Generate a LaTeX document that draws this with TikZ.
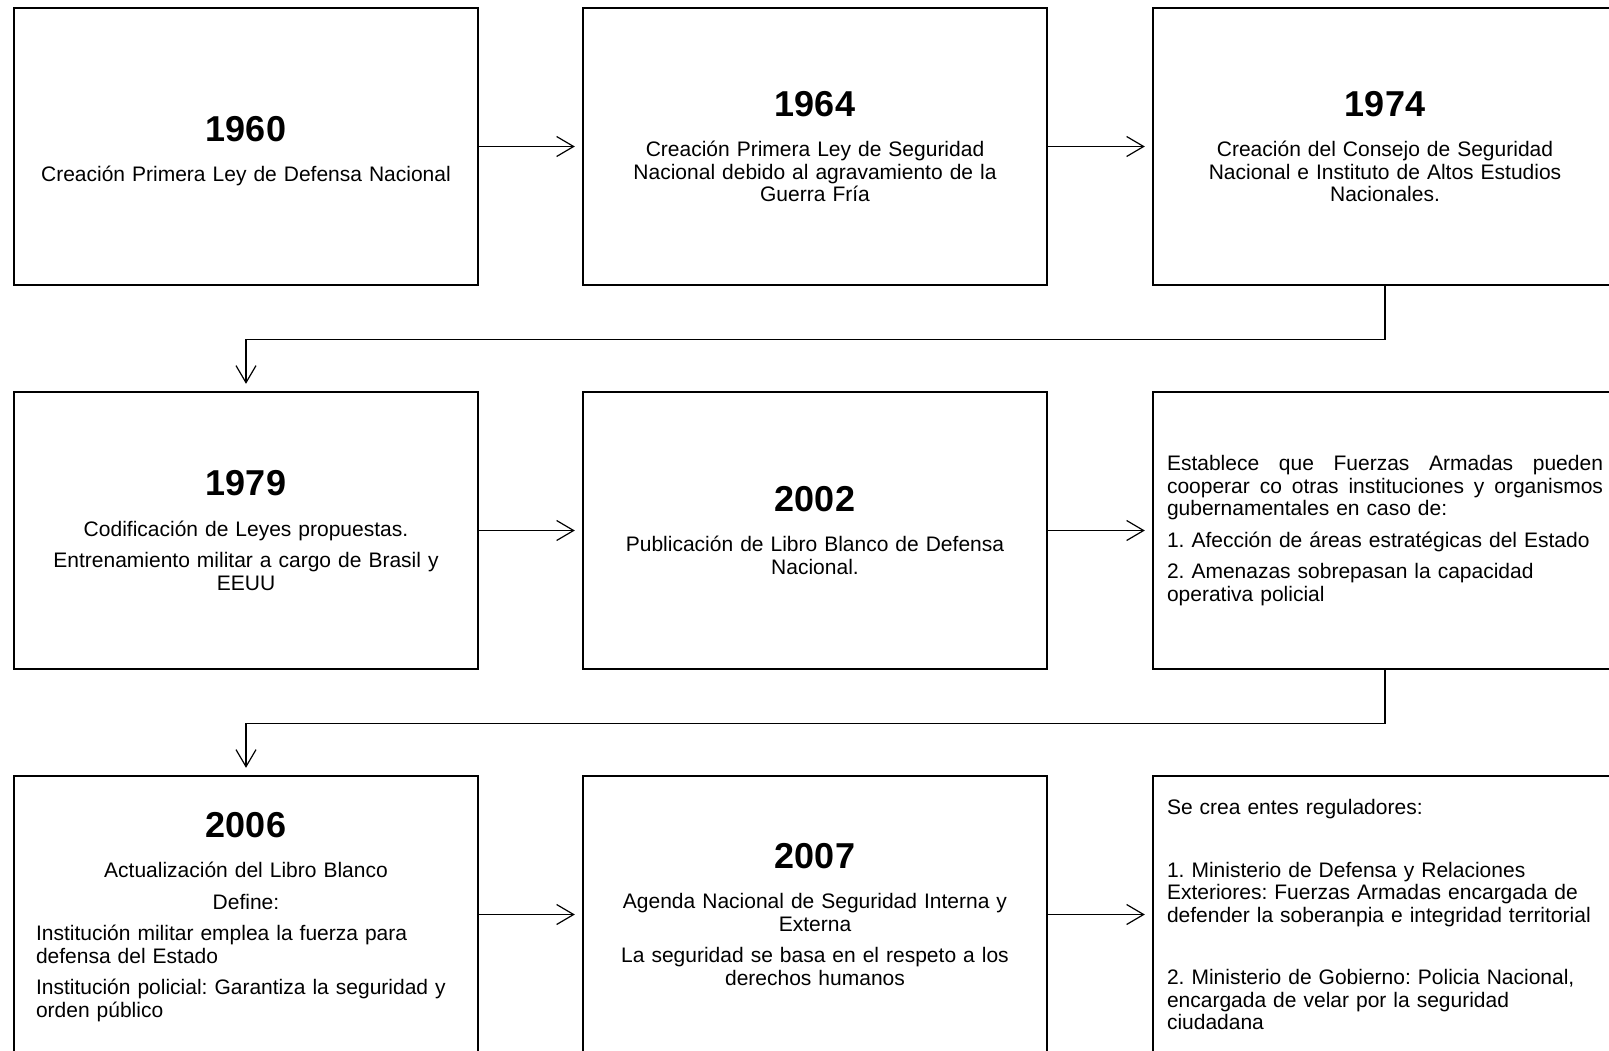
\documentclass[tikz,border=0pt]{standalone}
\usepackage{fontspec}
\setmainfont{Liberation Sans}
\usetikzlibrary{arrows.meta}
\newcommand{\anio}[1]{{\fontsize{36}{40}\selectfont\bfseries #1}}

\begin{document}
\frenchspacing
\begin{tikzpicture}[x=1pt,y=-1pt]
      \tikzstyle{caja}=[draw,line width=2.4pt,text width=436pt,inner xsep=14pt,inner ysep=0pt,minimum height=277pt,align=center,font=\fontsize{21}{22.5}\selectfont]
      \tikzstyle{flecha}=[line width=1.2pt,-{Straight Barb[length=17pt,width=20pt]},shorten >=7pt]
      \useasboundingbox (0,0) rectangle (1609,1050);
      \clip (0,0) rectangle (1609,1050);
      % fila 1
      \node[caja] (c_1) at (246,146.5) {\rule{0pt}{34pt}\anio{1960}\\[18pt]Creación Primera Ley de Defensa Nacional};
      \node[caja] (c_2) at (815,146.5) {\anio{1964}\\[18pt]Creación Primera Ley de Seguridad\\Nacional debido al agravamiento de la\\Guerra Fría};
      \node[caja] (c_3) at (1385,146.5) {\anio{1974}\\[18pt]Creación del Consejo de Seguridad\\Nacional e Instituto de Altos Estudios\\Nacionales.};
      % fila 2
      \node[caja] (c_4) at (246,530.5) {\anio{1979}\\[18pt]Codificación de Leyes propuestas.\\[9pt]Entrenamiento militar a cargo de Brasil y\\EEUU};
      \node[caja] (c_5) at (815,530.5) {\anio{2002}\\[18pt]Publicación de Libro Blanco de Defensa\\Nacional.};
      \node[caja,align=left] (c_6) at (1385,530.5) {\makebox[436pt][l]{Establece\hfill que\hfill Fuerzas\hfill Armadas\hfill pueden}\\\makebox[436pt][l]{cooperar\hfill co\hfill otras\hfill instituciones\hfill y\hfill organismos}\\gubernamentales en caso de:\\[9pt]1. Afección de áreas estratégicas del Estado\\[9pt]2. Amenazas sobrepasan la capacidad\\operativa policial};
      % fila 3
      \node[caja] (c_7) at (246,914.5) {\rule{0pt}{30pt}\anio{2006}\\[18pt]Actualización del Libro Blanco\\[9pt]Define:\\[9pt]\makebox[420pt][l]{Institución militar emplea la fuerza para}\\\makebox[420pt][l]{defensa del Estado}\\[9pt]\makebox[420pt][l]{Institución policial: Garantiza la seguridad y}\\\makebox[420pt][l]{orden público}};
      \node[caja] (c_8) at (815,914.5) {\anio{2007}\\[18pt]Agenda Nacional de Seguridad Interna y\\Externa\\[9pt]La seguridad se basa en el respeto a los\\derechos humanos};
      \node[caja,align=left] (c_9) at (1385,914.5) {Se crea entes reguladores:\\[40pt]1. Ministerio de Defensa y Relaciones\\Exteriores: Fuerzas Armadas encargada de\\defender la soberanpia e integridad territorial\\[40pt]2. Ministerio de Gobierno: Policia Nacional,\\encargada de velar por la seguridad\\ciudadana};
      % conectores
      \draw[flecha] (c_1.east) -- (c_2.west);
      \draw[flecha] (c_2.east) -- (c_3.west);
      \draw[flecha] (c_3.south) -- ++(0,53) -| (c_4.north);
      \draw[flecha] (c_4.east) -- (c_5.west);
      \draw[flecha] (c_5.east) -- (c_6.west);
      \draw[flecha] (c_6.south) -- ++(0,53) -| (c_7.north);
      \draw[flecha] (c_7.east) -- (c_8.west);
      \draw[flecha] (c_8.east) -- (c_9.west);
\end{tikzpicture}
\end{document}
